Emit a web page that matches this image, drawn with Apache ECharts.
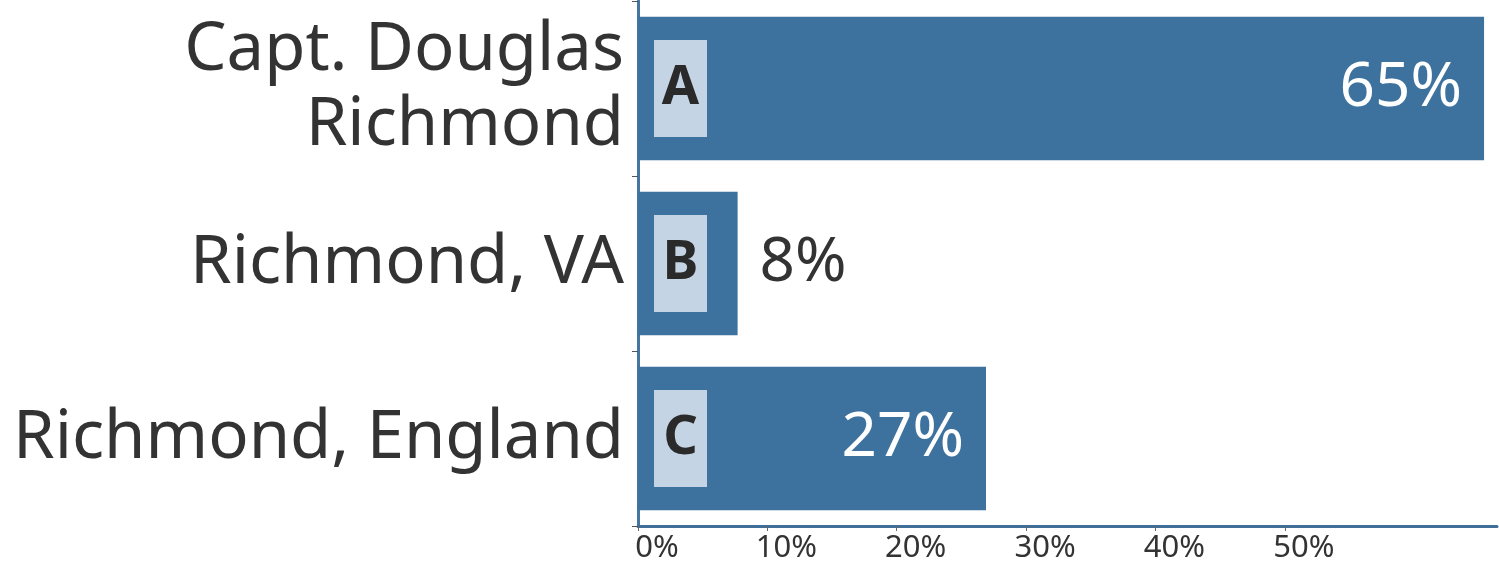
<!DOCTYPE html>
<html>
<head>
<meta charset="utf-8">
<script src="https://cdn.jsdelivr.net/npm/echarts@6/dist/echarts.min.js"></script>
<style>
  html, body { margin: 0; padding: 0; background: #fff; }
  #chart { width: 1499px; height: 565px; }
</style>
</head>
<body>
<div id="chart"></div>
<script>
// 数据
const categories = ["Capt. Douglas\nRichmond", "Richmond, VA", "Richmond, England"];
const letters = ["A", "B", "C"];
const shares = [65.4, 7.7, 26.9];
const tickValues = [0, 10, 20, 30, 40, 50];

const barColor = "#3e729e";
const fontFamily = "'Noto Sans', sans-serif";

const chart = echarts.init(document.getElementById("chart"));

const option = {
  animation: false,
  grid: { left: 638, right: 2, top: 1, bottom: 39, containLabel: false },
  xAxis: {
    type: "value",
    min: 0,
    max: 66.4,
    splitLine: { show: false },
    axisLine: { show: true, lineStyle: { color: "#3f6f99", width: 3 } },
    axisTick: {
      show: true,
      customValues: tickValues,
      length: 5,
      lineStyle: { color: "#666", width: 1 },
    },
    axisLabel: {
      customValues: tickValues,
      formatter: "{value}%",
      color: "#333",
      fontSize: 31,
      fontFamily: fontFamily,
      margin: 7,
      padding: [0, 0, 0, 38], // 标签略向右偏
    },
  },
  yAxis: {
    type: "category",
    data: categories,
    inverse: true,
    axisLine: { show: true, lineStyle: { color: "#4576a2", width: 3 } },
    axisTick: { show: true, length: 6, lineStyle: { color: "#555" } },
    axisLabel: {
      color: "#333",
      fontSize: 67,
      lineHeight: 75,
      fontFamily: fontFamily,
      margin: 14,
      align: "right",
    },
  },
  series: [
    {
      name: "share",
      type: "bar",
      barCategoryGap: "18%",
      itemStyle: { color: barColor },
      data: shares.map((v) => ({
        value: v,
        label:
          v < 15
            ? { position: "right", color: "#333" }
            : { position: "insideRight", color: "#fff" },
      })),
      label: {
        show: true,
        formatter: (p) => Math.round(p.value) + "%",
        fontSize: 62,
        fontFamily: fontFamily,
        distance: 22,
      },
      z: 2,
    },
    {
      name: "letter",
      type: "bar",
      barGap: "-100%",
      barCategoryGap: "18%",
      itemStyle: { color: "rgba(0,0,0,0)" },
      data: shares,
      label: {
        show: true,
        position: "insideLeft",
        distance: 16,
        align: "left",
        formatter: (p) => "{t|" + letters[p.dataIndex] + "}",
        backgroundColor: "#c5d4e4",
        padding: [19, 8, 18, 8],
        rich: {
          t: {
            color: "#2a2a2a",
            fontSize: 54,
            fontWeight: "bold",
            fontFamily: fontFamily,
            lineHeight: 60,
            width: 37,
            align: "center",
          },
        },
      },
      z: 3,
    },
  ],
};

chart.setOption(option);
</script>
</body>
</html>
